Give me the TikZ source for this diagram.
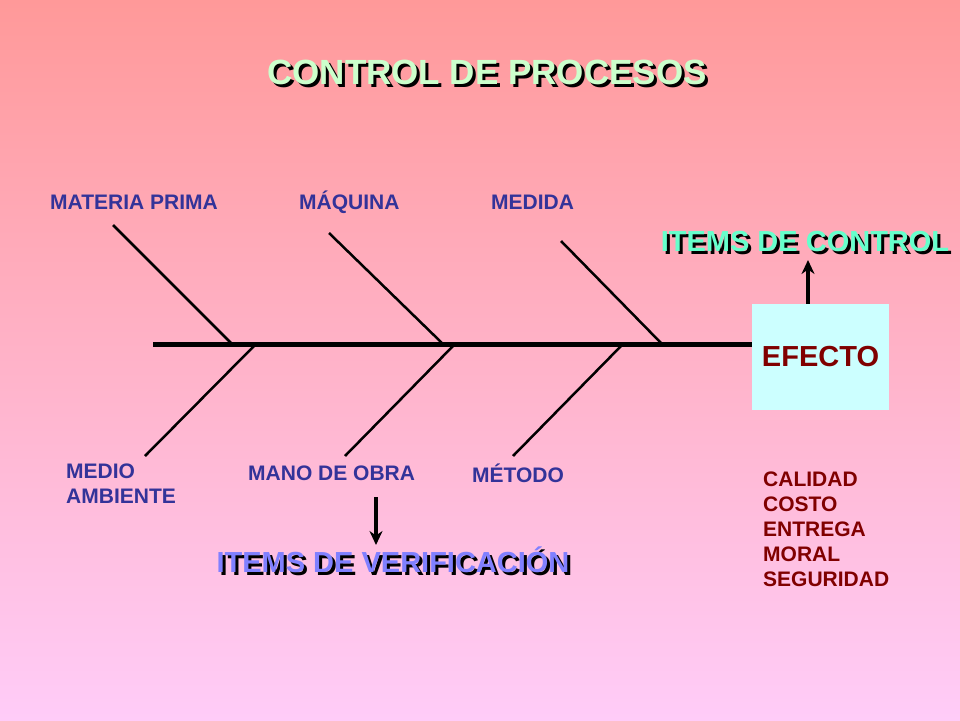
\documentclass[tikz,border=0pt]{standalone}
\usepackage{fontspec}
\setmainfont{Liberation Sans}
\usetikzlibrary{arrows.meta}
\definecolor{bgtop}{HTML}{FF9999}
\definecolor{bgbot}{HTML}{FFCCF8}
\definecolor{causa}{HTML}{333399}
\definecolor{efecto}{HTML}{800000}
\definecolor{cajafill}{HTML}{CCFFFF}
\definecolor{titulo}{HTML}{CCFFCC}
\definecolor{control}{HTML}{66FFCC}
\definecolor{verif}{HTML}{8080FF}
\tikzset{
  causa/.style={text=causa,font=\fontsize{21}{25}\selectfont\bfseries,inner sep=0pt,anchor=west},
  lista/.style={text=efecto,font=\fontsize{21}{25}\selectfont\bfseries,inner sep=0pt,align=left},
  espina/.style={line width=2.5pt},
  flecha/.style={line width=3.5pt,-{Stealth[length=14pt,width=13pt]}}
}
\newcommand{\sombra}[4]{% name, position, colour, size
  \node[font=\fontsize{#4}{#4}\selectfont\bfseries,text=black] at ([shift={(3,3)}]#2) {#1};
  \node[font=\fontsize{#4}{#4}\selectfont\bfseries,text=#3] at (#2) {#1};}
\begin{document}
\begin{tikzpicture}[x=1pt,y=-1pt]
\shade[top color=bgtop,bottom color=bgbot] (0,0) rectangle (960,720);
\useasboundingbox (0,0) rectangle (960,720);
% titulo
\coordinate (tit) at (487,72);
\sombra{CONTROL DE PROCESOS}{tit}{titulo}{35}
% espina central y efecto
\node[fill=cajafill,minimum width=137pt,minimum height=106pt,inner sep=0pt] (caja) at (820.5,357) {};
\node[text=efecto,font=\fontsize{29}{29}\selectfont\bfseries] at (caja) {EFECTO};
\coordinate (cola) at (153,344);
\draw[line width=5pt] (cola) -- (caja.west |- cola);
% espinas superiores
\draw[espina] (113,225) -- (232,344);
\draw[espina] (329,233) -- (443,344);
\draw[espina] (561,241) -- (662,344);
% espinas inferiores
\draw[espina] (145,456) -- (256,344);
\draw[espina] (345,456) -- (455,344);
\draw[espina] (513,456) -- (623,344);
% causas
\node[causa] (mp) at (50,202) {MATERIA PRIMA};
\node[causa] (maq) at (299,202) {MÁQUINA};
\node[causa] (med) at (491,202) {MEDIDA};
\node[causa,anchor=north west,align=left] (ma) at (66,464) {MEDIO\\AMBIENTE};
\node[causa] (mo) at (248,473) {MANO DE OBRA};
\node[causa] (met) at (472,473) {MÉTODO};
% items
\coordinate (ic) at (805,242);
\sombra{ITEMS DE CONTROL}{ic}{control}{29}
\draw[flecha] (caja.north -| 808,0) -- (808,260);
\coordinate (iv) at (393,560);
\sombra{ITEMS DE VERIFICACIÓN}{iv}{verif}{29}
\draw[flecha] (376,497) -- (376,545);
\node[lista,anchor=north west] (lst) at (763,472) {CALIDAD\\COSTO\\ENTREGA\\MORAL\\SEGURIDAD};
\end{tikzpicture}
\end{document}
